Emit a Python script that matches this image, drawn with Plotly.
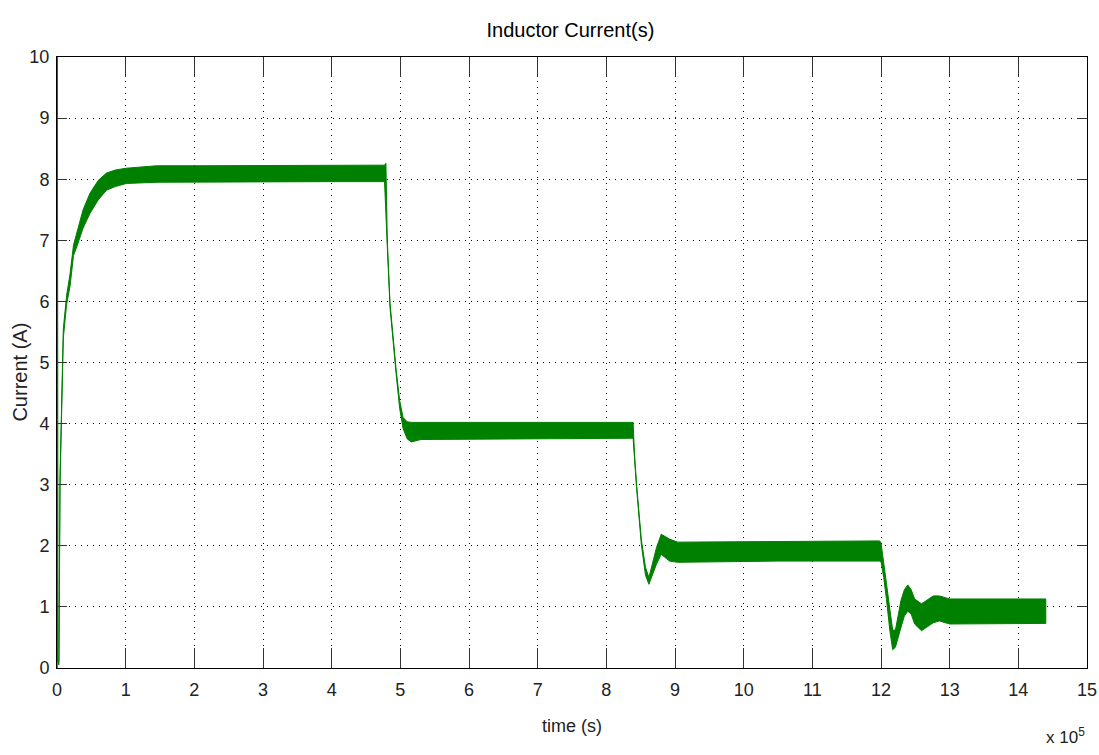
import plotly.graph_objects as go

# Simulated inductor current: ripple band described by its upper and lower envelopes
time_e5 = [0.000, 0.006, 0.012, 0.028, 0.044, 0.068, 0.092, 0.14, 0.19, 0.24,
           0.29, 0.38, 0.48, 0.60, 0.72, 0.85, 1.01, 1.45, 2.0, 3.0,
           4.0, 4.77, 4.79, 4.81, 4.85, 4.90, 4.94, 4.99, 5.04, 5.10,
           5.16, 5.30, 6.5, 8.37, 8.39, 8.41, 8.44, 8.51, 8.57, 8.62,
           8.67, 8.73, 8.80, 8.92, 9.04, 10.5, 11.98, 12.00, 12.04, 12.08,
           12.13, 12.17, 12.21, 12.25, 12.29, 12.34, 12.39, 12.44, 12.49, 12.59,
           12.68, 12.76, 12.85, 13.0, 14.40]

current_upper = [0.0, 10.4, 0.1, 0.1, 3.15, 4.5, 5.55, 6.1, 6.45, 6.92,
                 7.12, 7.5, 7.77, 7.98, 8.10, 8.15, 8.18, 8.22, 8.22, 8.22,
                 8.22, 8.23, 8.26, 7.0, 5.97, 5.31, 4.87, 4.38, 4.10, 4.03,
                 4.02, 4.02, 4.02, 4.03, 4.02, 3.5, 3.01, 2.10, 1.65, 1.48,
                 1.70, 1.97, 2.19, 2.11, 2.06, 2.07, 2.08, 2.05, 1.75, 1.38,
                 0.95, 0.62, 0.62, 0.88, 1.10, 1.28, 1.36, 1.28, 1.13, 1.05,
                 1.12, 1.18, 1.18, 1.13, 1.13]

current_lower = [0.0, 10.4, 0.1, 0.05, 3.0, 4.35, 5.4, 5.95, 6.25, 6.75,
                 6.9, 7.2, 7.44, 7.66, 7.82, 7.88, 7.93, 7.95, 7.96, 7.96,
                 7.96, 7.96, 7.6, 6.9, 5.9, 5.25, 4.80, 4.25, 3.92, 3.75,
                 3.70, 3.74, 3.75, 3.76, 3.76, 3.40, 2.95, 2.02, 1.52, 1.37,
                 1.50, 1.70, 1.86, 1.75, 1.73, 1.75, 1.75, 1.74, 1.48, 1.12,
                 0.60, 0.30, 0.34, 0.48, 0.66, 0.85, 0.93, 0.88, 0.72, 0.61,
                 0.68, 0.74, 0.77, 0.72, 0.73]

x_ticks = list(range(0, 16))
y_ticks = list(range(0, 11))

GREEN = "rgb(0,128,0)"
FONT = "Liberation Sans Narrow, Arial Narrow, Liberation Sans, Arial, sans-serif"
TEXT = "#222"

# closed polygon: upper envelope forward, lower envelope backward
band_x = time_e5 + time_e5[::-1]
band_y = current_upper + current_lower[::-1]

fig = go.Figure()
fig.add_trace(go.Scatter(
    x=band_x, y=band_y, mode="lines", fill="toself",
    fillcolor=GREEN, line=dict(color=GREEN, width=1),
    hoverinfo="skip", showlegend=False,
))

axis_common = dict(
    showline=True, linecolor="black", linewidth=1, mirror="ticks",
    ticks="inside", tickcolor="#333", tickwidth=1,
    showgrid=True, gridcolor="black", gridwidth=1, griddash="1px,5px",
    zeroline=False, automargin=False,
    tickfont=dict(family=FONT, size=18, color=TEXT),
)

fig.update_xaxes(range=[0, 15], tickvals=x_ticks, ticktext=[str(v) for v in x_ticks],
                 ticklen=20, ticklabelstandoff=5, **axis_common)
fig.update_yaxes(range=[0, 10], tickvals=y_ticks, ticktext=[str(v) for v in y_ticks],
                 ticklen=10, ticklabelstandoff=3, **axis_common)

fig.update_layout(
    width=1099, height=755,
    margin=dict(l=57, r=12, t=57, b=87),
    paper_bgcolor="white", plot_bgcolor="white",
    title=dict(text="Inductor Current(s)", x=0.519, xanchor="center", y=0.96, yanchor="middle",
               font=dict(family=FONT, size=20, color="black")),
    annotations=[
        dict(text="time (s)", xref="paper", yref="paper", x=0.5, y=-0.095,
             xanchor="center", yanchor="middle", showarrow=False,
             font=dict(family=FONT, size=18, color=TEXT)),
        dict(text="Current (A)", xref="paper", yref="paper", x=-0.036, y=0.485,
             xanchor="center", yanchor="middle", textangle=-90, showarrow=False,
             font=dict(family=FONT, size=20, color=TEXT)),
        dict(text="x 10<sup>5</sup>", xref="paper", yref="paper",
             x=1.0, y=-0.112, xanchor="right", yanchor="middle", showarrow=False,
             font=dict(family=FONT, size=17, color=TEXT)),
    ],
)

fig.write_html("out.html")
